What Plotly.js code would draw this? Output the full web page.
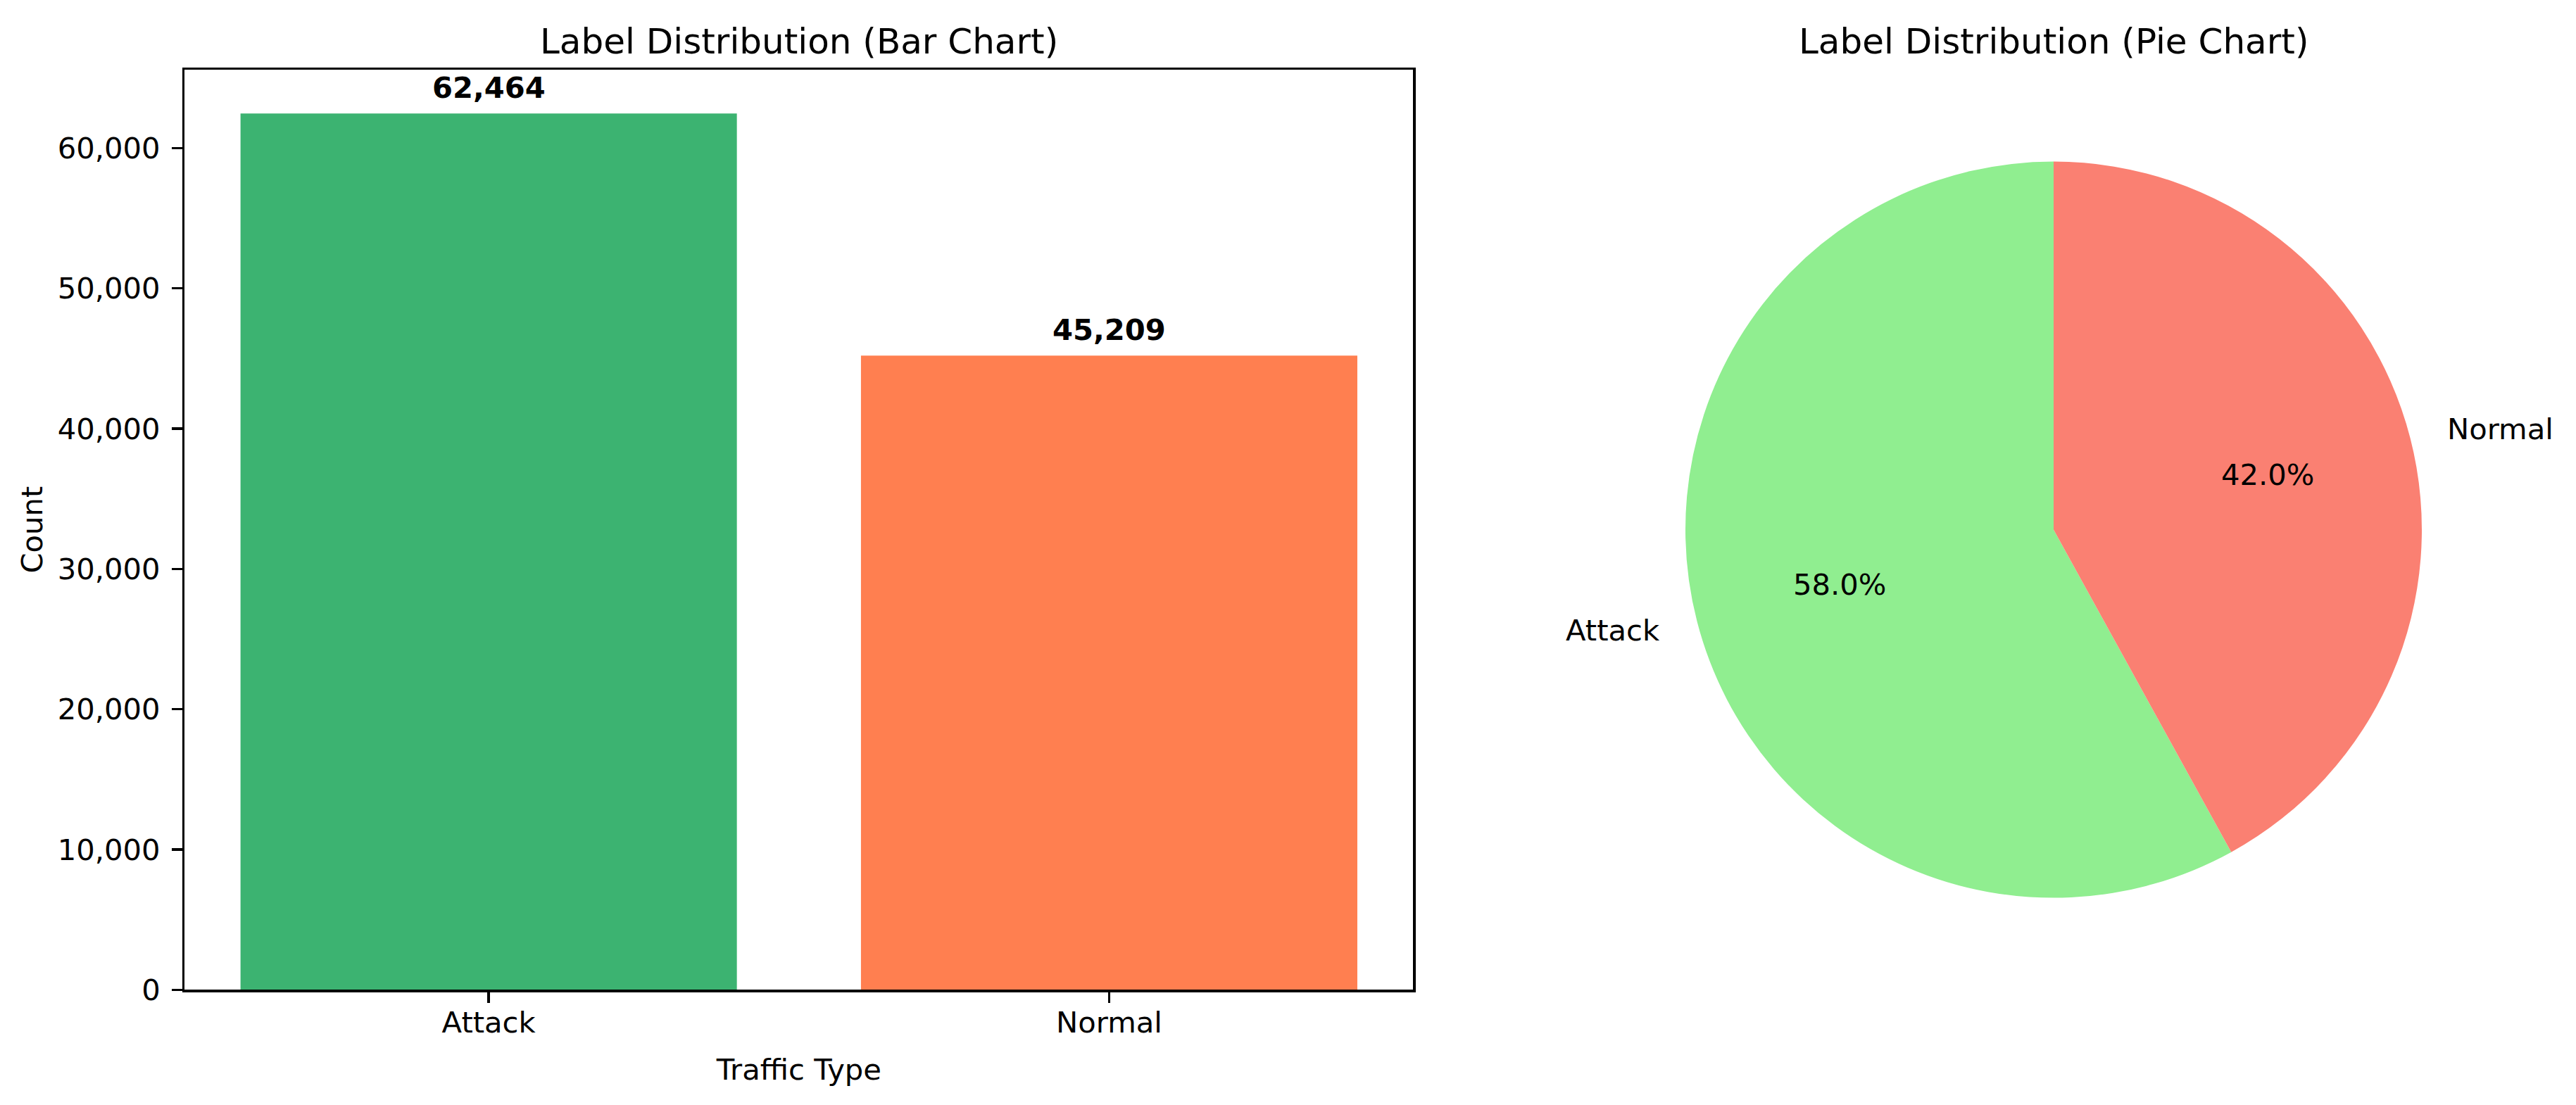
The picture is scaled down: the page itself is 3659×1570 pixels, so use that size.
<!DOCTYPE html>
<html>
<head>
<meta charset="utf-8">
<script src="https://cdn.plot.ly/plotly-3.0.1.min.js"></script>
<style>html,body{margin:0;padding:0;background:#fff;}#chart{width:3659px;height:1570px;}</style>
</head>
<body>
<div id="chart"></div>
<script>
// ---- data ----
const categories = ['Attack', 'Normal'];
const counts = [62464, 45209];
const barColors = ['#3CB371', '#FF7F50'];
const pieColors = ['#90EE90', '#FA8072'];
const yTickVals = [0, 10000, 20000, 30000, 40000, 50000, 60000];
const barTitle = 'Label Distribution (Bar Chart)';
const pieTitle = 'Label Distribution (Pie Chart)';
const xTitle = 'Traffic Type';
const yTitle = 'Count';

// ---- layout geometry (pixels) ----
const W = 3659, H = 1570;
const FONT = 'DejaVu Sans, Liberation Sans, sans-serif';
const fs = 41.7, tfs = 50;
const ax = {l: 262.3, r: 2007.3, t: 99, b: 1406.3};
const pie = {cx: 2917, cy: 752.6, r: 523};
const px2x = p => p / W;
const px2y = p => 1 - p / H;

const total = counts.reduce((a, b) => a + b, 0);
const ymax = Math.max(...counts) * 1.05;

const barTrace = {
  type: 'bar', x: categories, y: counts, width: 0.8,
  marker: {color: barColors, line: {width: 0}},
  xaxis: 'x', yaxis: 'y', hoverinfo: 'skip', showlegend: false
};

// matplotlib startangle=90 counterclockwise: first slice ends at 12 o'clock on the left
const pieTrace = {
  type: 'pie', labels: categories, values: counts, sort: false,
  direction: 'clockwise', rotation: -360 * counts[0] / total,
  marker: {colors: pieColors, line: {width: 0}},
  textinfo: 'none', hoverinfo: 'skip', showlegend: false,
  domain: {x: [px2x(pie.cx - pie.r), px2x(pie.cx + pie.r)],
           y: [px2y(pie.cy + pie.r), px2y(pie.cy - pie.r)]}
};

const annotations = [];
// subplot titles
annotations.push({text: barTitle, xref: 'paper', yref: 'paper', x: px2x((ax.l + ax.r) / 2), y: px2y(ax.t),
  xanchor: 'center', yanchor: 'bottom', yshift: 9, showarrow: false, font: {family: FONT, size: tfs, color: '#000'}});
annotations.push({text: pieTitle, xref: 'paper', yref: 'paper', x: px2x(pie.cx), y: px2y(ax.t),
  xanchor: 'center', yanchor: 'bottom', yshift: 9, showarrow: false, font: {family: FONT, size: tfs, color: '#000'}});
// bar value labels
categories.forEach((c, i) => {
  annotations.push({text: '<b>' + counts[i].toLocaleString('en-US') + '</b>', x: c, y: counts[i], xref: 'x', yref: 'y',
    xanchor: 'center', yanchor: 'bottom', yshift: 10, showarrow: false, font: {family: FONT, size: fs, color: '#000'}});
});
// pie labels (matplotlib-style: startangle 90, counterclockwise)
let start = 90;
counts.forEach((v, i) => {
  const span = 360 * v / total;
  const mid = (start + span / 2) * Math.PI / 180;
  start += span;
  const cs = Math.cos(mid), sn = Math.sin(mid);
  const pct = (100 * v / total).toFixed(1) + '%';
  annotations.push({text: pct, xref: 'paper', yref: 'paper',
    x: px2x(pie.cx + 0.6 * pie.r * cs), y: px2y(pie.cy - 0.6 * pie.r * sn),
    xanchor: 'center', yanchor: 'middle', showarrow: false, font: {family: FONT, size: fs, color: '#000'}});
  annotations.push({text: categories[i], xref: 'paper', yref: 'paper',
    x: px2x(pie.cx + 1.1 * pie.r * cs), y: px2y(pie.cy - 1.1 * pie.r * sn),
    xanchor: cs < 0 ? 'right' : 'left', yanchor: 'middle', showarrow: false, font: {family: FONT, size: fs, color: '#000'}});
});

const axisCommon = {
  showline: true, mirror: true, linecolor: '#000', linewidth: 3.3,
  ticks: 'outside', ticklen: 15, tickwidth: 3.3, tickcolor: '#000',
  showgrid: false, zeroline: false, fixedrange: true,
  tickfont: {family: FONT, size: fs, color: '#000'}
};

const layout = {
  width: W, height: H, margin: {l: 0, r: 0, t: 0, b: 0},
  paper_bgcolor: '#fff', plot_bgcolor: '#fff',
  font: {family: FONT, color: '#000'},
  showlegend: false,
  xaxis: Object.assign({}, axisCommon, {
    domain: [px2x(ax.l), px2x(ax.r)], anchor: 'y', type: 'category',
    range: [-0.49, categories.length - 1 + 0.49], ticklabelstandoff: -8,
    title: {text: xTitle, font: {family: FONT, size: fs, color: '#000'}, standoff: 30}
  }),
  yaxis: Object.assign({}, axisCommon, {
    domain: [px2y(ax.b), px2y(ax.t)], anchor: 'x',
    range: [0, ymax], tickvals: yTickVals, tickformat: ',d', ticklabelstandoff: 8,
    title: {text: yTitle, font: {family: FONT, size: fs, color: '#000'}, standoff: 9}
  }),
  annotations: annotations
};

Plotly.newPlot('chart', [barTrace, pieTrace], layout, {staticPlot: true, displayModeBar: false});
</script>
</body>
</html>
